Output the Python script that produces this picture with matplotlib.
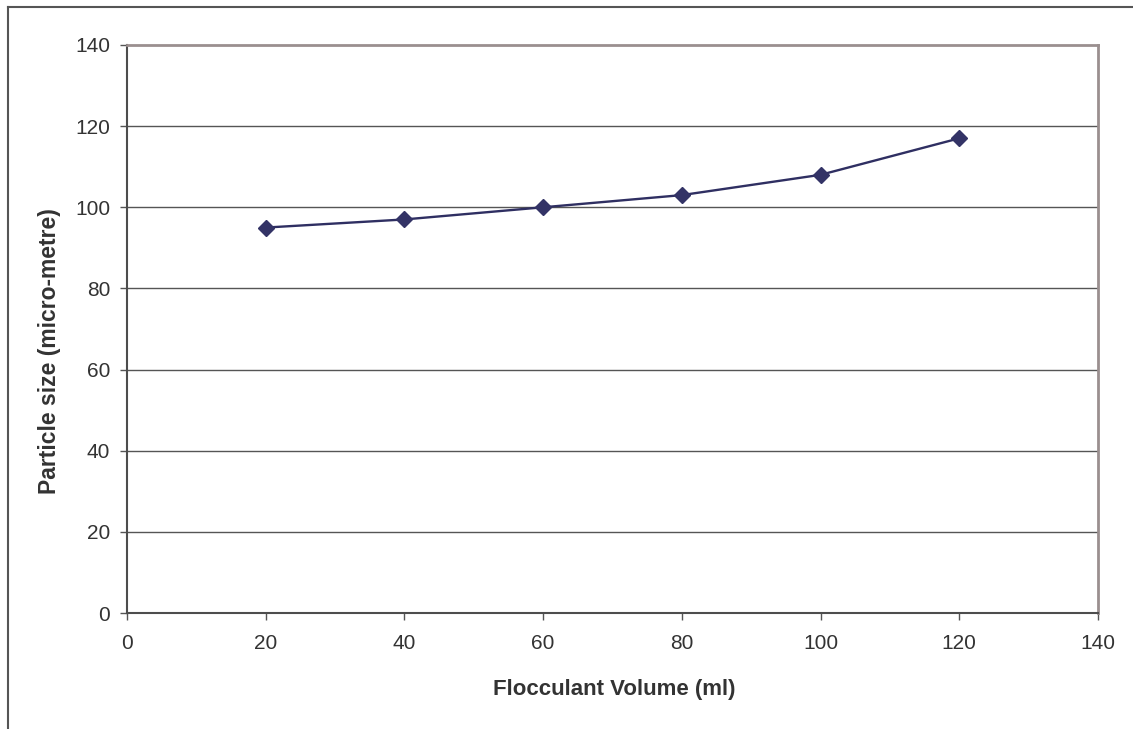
import matplotlib.pyplot as plt
from matplotlib.lines import Line2D

# flocculant dose vs measured particle size
volume_ml = [20, 40, 60, 80, 100, 120]
particle_size_um = [95, 97, 100, 103, 108, 117]

x_ticks = [0, 20, 40, 60, 80, 100, 120, 140]
y_ticks = [0, 20, 40, 60, 80, 100, 120, 140]

plt.rcParams['font.family'] = ['Liberation Sans', 'DejaVu Sans']

fig = plt.figure(figsize=(11.33, 7.29), dpi=100)
ax = fig.add_axes([0.1121, 0.1591, 0.857, 0.7792])

# horizontal gridlines
for y in y_ticks[1:-1]:
    ax.axhline(y, color='#555555', linewidth=1.0, zorder=1)

ax.plot(volume_ml, particle_size_um, color='#2f2f62', linewidth=1.7,
        marker='D', markersize=8.5, markerfacecolor='#333366',
        markeredgecolor='#333366', zorder=3)

ax.set_xlim(0, 140)
ax.set_ylim(0, 140)
ax.set_xticks(x_ticks)
ax.set_yticks(y_ticks)
ax.tick_params(axis='both', direction='out', length=5, width=1.0,
               color='#555555', labelsize=15, labelcolor='#333333')
ax.tick_params(axis='x', pad=10)
ax.tick_params(axis='y', pad=7)

for side in ['left', 'bottom']:
    ax.spines[side].set_color('#4d4d4d')
    ax.spines[side].set_linewidth(1.5)
for side in ['top', 'right']:
    ax.spines[side].set_color('#9a8f8f')
    ax.spines[side].set_linewidth(2.0)

ax.set_xlabel('Flocculant Volume (ml)', fontsize=16, fontweight='bold',
              color='#333333')
ax.set_ylabel('Particle size (micro-metre)', fontsize=16.5, fontweight='bold',
              color='#333333')
ax.xaxis.set_label_coords(0.502, -0.134)
ax.yaxis.set_label_coords(-0.080, 0.462)
ax.xaxis.label.set_va('center')
ax.yaxis.label.set_va('center')

# chart frame (left and top edges)
fig.add_artist(Line2D([8 / 1133, 8 / 1133], [0, 1 - 7 / 729],
                      transform=fig.transFigure, color='#555555', linewidth=1.5))
fig.add_artist(Line2D([8 / 1133, 1], [1 - 7 / 729, 1 - 7 / 729],
                      transform=fig.transFigure, color='#555555', linewidth=1.5))

fig.savefig('out.png', dpi=100)
